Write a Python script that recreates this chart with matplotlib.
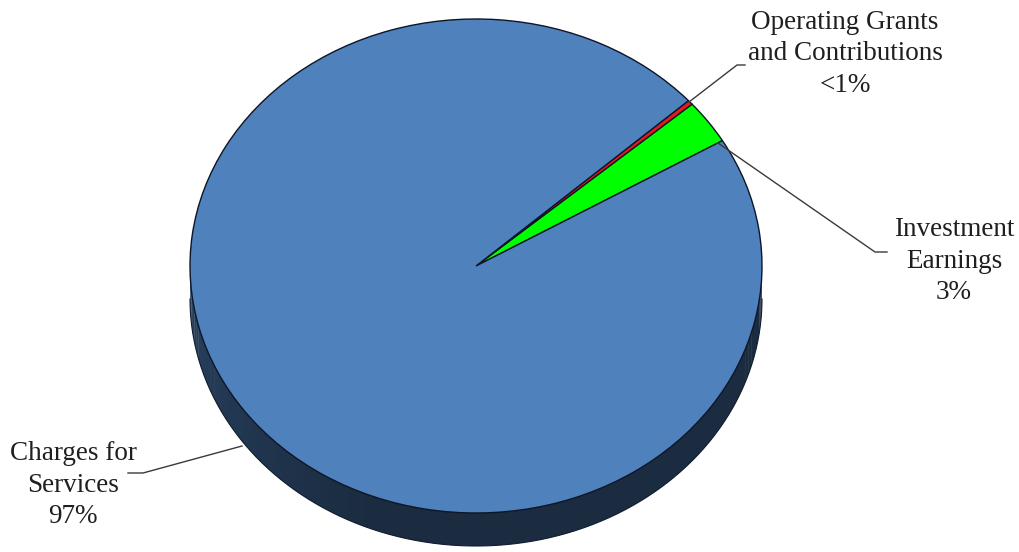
import numpy as np
import matplotlib.pyplot as plt
import matplotlib.colors as mcolors
from matplotlib.patches import Wedge, Polygon
from matplotlib.transforms import Affine2D

# slices, counter-clockwise from the start angle
labels = ['Investment\nEarnings\n3%',
          'Operating Grants\nand Contributions\n<1%',
          'Charges for\nServices\n97%']
values = [2.9, 0.3, 96.8]
colors = ['#00FF00', '#E8191A', '#4F81BD']
start_angle = 30.5

# layout (pixels)
cx, cy = 476, 266
rx, ry = 286, 247
depth = 33

plt.rcParams['font.family'] = ['Liberation Serif', 'DejaVu Serif']

fig = plt.figure(figsize=(10.2, 5.52), dpi=100)
ax = fig.add_axes([0, 0, 1, 1])
ax.set_xlim(0, 1020)
ax.set_ylim(552, 0)
ax.axis('off')

fracs = np.array(values) / sum(values)
bounds = start_angle + 360 * np.concatenate([[0], np.cumsum(fracs)])


def top_pt(t):
    r = np.radians(t)
    return cx + rx * np.cos(r), cy - ry * np.sin(r)


# side wall (only the front half 180..360 is visible)
for i in range(len(values)):
    a0, a1 = bounds[i], bounds[i + 1]
    for shift in (0, 360, -360):
        lo = max(a0 + shift, 180)
        hi = min(a1 + shift, 360)
        if hi <= lo:
            continue
        base = np.array(mcolors.to_rgb(colors[i]))
        edges = np.linspace(lo, hi, int((hi - lo) / 2) + 2)
        for t0, t1 in zip(edges[:-1], edges[1:]):
            tm = (t0 + t1) / 2
            # lighter at the left, darker towards the front/right
            k = 0.64 - 0.22 * np.clip((tm - 180) / 70, 0, 1)
            c = base * k * 0.8
            ts = np.linspace(t0, t1 + 0.3, 4)
            top = [top_pt(t) for t in ts]
            bot = [(x, y + depth) for x, y in top[::-1]]
            ax.add_patch(Polygon(top + bot, closed=True, facecolor=c,
                                 edgecolor='none', zorder=1))
ts = np.linspace(180, 360, 200)
bx = [top_pt(t)[0] for t in ts]
by = [top_pt(t)[1] + depth for t in ts]
ax.plot(bx, by, color='#101c30', lw=0.8, zorder=2)

# top face
tr = Affine2D().scale(rx, -ry).translate(cx, cy) + ax.transData
for i in range(len(values)):
    w = Wedge((0, 0), 1, bounds[i], bounds[i + 1], facecolor=colors[i],
              edgecolor='#0d1526', lw=1.0, transform=tr, zorder=3)
    ax.add_patch(w)

# leader lines and labels
leaders = [
    [(718, 143), (875, 252), (887, 252)],
    [(689, 102), (737, 65), (745, 65)],
    [(242, 446), (143, 473), (128, 473)],
]
label_pos = [(954, 261, 'center'), (845, 54, 'center'), (73, 485, 'center')]
for i in range(len(values)):
    xs, ys = zip(*leaders[i])
    ax.plot(xs, ys, color='#3a3a3a', lw=1.0, zorder=4)
    x, y, ha = label_pos[i]
    ax.text(x, y, labels[i], ha=ha, va='center', fontsize=19.5,
            linespacing=1.36, color='#1f1f1f', zorder=5)

fig.savefig('out.png', dpi=100, facecolor='white')
